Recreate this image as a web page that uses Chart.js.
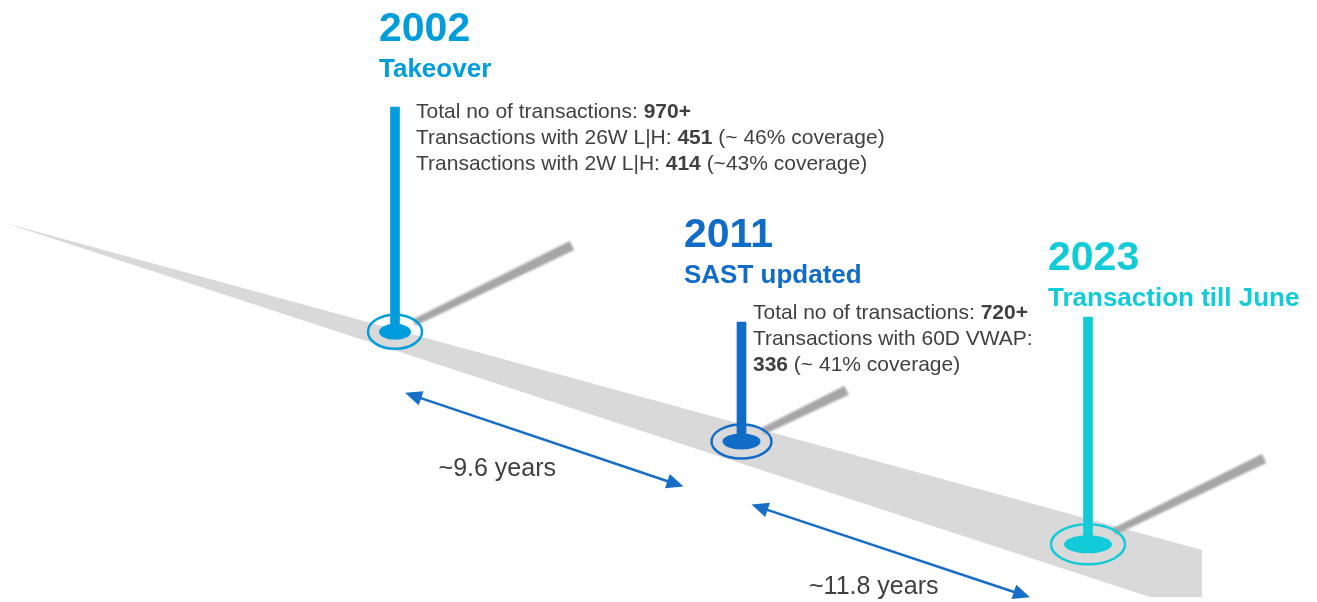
<!DOCTYPE html>
<html>
<head>
<meta charset="utf-8">
<script src="https://cdn.jsdelivr.net/npm/chart.js@4.4.1/dist/chart.umd.min.js"></script>
<style>
  html, body { margin: 0; padding: 0; background: #fff; }
</style>
</head>
<body>
<canvas id="timeline" width="1317" height="602"></canvas>
<script>
// timeline data
const years = ['2002', '2011', '2023'];
const titles = ['Takeover', 'SAST updated', 'Transaction till June'];
const notes = [
  ['Total no of transactions: **970+**',
   'Transactions with 26W L|H: **451** (~ 46% coverage)',
   'Transactions with 2W L|H: **414** (~43% coverage)'],
  ['Total no of transactions: **720+**',
   'Transactions with 60D VWAP:',
   '**336** (~ 41% coverage)'],
  []
];
const gapLabels = ['~9.6 years', '~11.8 years'];

// styles
const eventColors = ['#009ddc', '#106cc6', '#12cbd9'];
const arrowColor = '#176ec8';
const roadColor = '#d9d9d9';
const shadowColor = '#a6a6a6';
const textColor = '#404040';
const FONT = '"Liberation Sans", Arial, sans-serif';

// layout (x in category-index units, y in the y scale units)
const W = 1317, H = 602;
const road = { tip: -1.1255, end: 2.329, tipY: 223, endTop: 550, endBottom: 614, cutY: 597 };
const depth = [0.11, 0.44, 0.44];          // where the pin stands across the road
const pinTop = [107, 322, 317];
const ringSize = [[27, 17], [30, 17], [37, 20]];
const dotSize = [[16, 8], [19, 8], [24, 9]];
const shadowLen = [197, 117, 196];
const headPos = [[379, 41], [684, 247], [1048, 270]];
const notePos = [[416, 118], [753, 319]];
const arrowFrom = [[10, 61], [10, 63]];     // offset from base of left pin
const arrowTo = [[-58, 45], [-58, 53]];     // offset from base of right pin
const labelOff = [[-47, 36], [-17, 43]];    // offset from arrow midpoint

const lerp = (a, b, t) => a + (b - a) * t;
const roadTop = i => lerp(road.tipY, road.endTop, (i - road.tip) / (road.end - road.tip));
const roadBottom = i => lerp(road.tipY, road.endBottom, (i - road.tip) / (road.end - road.tip));
const baseY = i => roadTop(i) + depth[i] * (roadBottom(i) - roadTop(i));

const pinRanges = years.map((y, i) => [baseY(i), pinTop[i]]);

function drawRich(ctx, line, x, y, size) {
  const parts = line.split('**');
  let cx = x;
  parts.forEach((p, k) => {
    ctx.font = (k % 2 ? 'bold ' : '') + size + 'px ' + FONT;
    ctx.fillText(p, cx, y);
    cx += ctx.measureText(p).width;
  });
}

function arrowHead(ctx, x, y, ang) {
  const len = 17, half = 7.5;
  ctx.beginPath();
  ctx.moveTo(x, y);
  ctx.lineTo(x - len * Math.cos(ang) + half * Math.sin(ang), y - len * Math.sin(ang) - half * Math.cos(ang));
  ctx.lineTo(x - len * Math.cos(ang) - half * Math.sin(ang), y - len * Math.sin(ang) + half * Math.cos(ang));
  ctx.closePath();
  ctx.fill();
}

const decor = {
  id: 'decor',
  beforeDatasetsDraw(chart) {
    const { ctx, scales: { x, y } } = chart;
    const px = v => x.getPixelForValue(v);
    const py = v => y.getPixelForValue(v);
    ctx.save();

    // road
    ctx.save();
    ctx.beginPath();
    ctx.rect(0, 0, W, py(road.cutY));
    ctx.clip();
    ctx.fillStyle = roadColor;
    ctx.beginPath();
    ctx.moveTo(px(road.tip), py(road.tipY));
    ctx.lineTo(px(road.end), py(road.endTop));
    ctx.lineTo(px(road.end), py(road.endBottom));
    ctx.closePath();
    ctx.fill();
    ctx.restore();

    const dx = Math.cos(26 * Math.PI / 180), dy = -Math.sin(26 * Math.PI / 180);
    years.forEach((yr, i) => {
      const bx = px(i), by = py(baseY(i));
      // shadow of the pin
      const s0 = ringSize[i][0] * 0.78, s1 = shadowLen[i];
      const w0 = 3.5, w1 = 5;
      ctx.save();
      ctx.filter = 'blur(1px)';
      ctx.fillStyle = shadowColor;
      ctx.beginPath();
      ctx.moveTo(bx + dx * s0 - dy * w0, by + dy * s0 + dx * w0);
      ctx.lineTo(bx + dx * s1 - dy * w1, by + dy * s1 + dx * w1);
      ctx.lineTo(bx + dx * s1 + dy * w1, by + dy * s1 - dx * w1);
      ctx.lineTo(bx + dx * s0 + dy * w0, by + dy * s0 - dx * w0);
      ctx.closePath();
      ctx.fill();
      ctx.restore();

      // base dot and ring
      ctx.fillStyle = eventColors[i];
      ctx.beginPath();
      ctx.ellipse(bx, by, dotSize[i][0], dotSize[i][1], 0, 0, Math.PI * 2);
      ctx.fill();
      ctx.strokeStyle = eventColors[i];
      ctx.lineWidth = 2.5;
      ctx.beginPath();
      ctx.ellipse(bx, by, ringSize[i][0], ringSize[i][1], 0, 0, Math.PI * 2);
      ctx.stroke();
    });
    ctx.restore();
  },
  afterDatasetsDraw(chart) {
    const { ctx, scales: { x, y } } = chart;
    const px = v => x.getPixelForValue(v);
    const py = v => y.getPixelForValue(v);
    ctx.save();
    ctx.textBaseline = 'alphabetic';
    ctx.textAlign = 'left';

    years.forEach((yr, i) => {
      const [hx, hy] = headPos[i];
      ctx.fillStyle = eventColors[i];
      ctx.font = 'bold 41px ' + FONT;
      ctx.fillText(yr, hx, hy);
      ctx.font = 'bold 26px ' + FONT;
      ctx.fillText(titles[i], hx, hy + 36);

      ctx.fillStyle = textColor;
      notes[i].forEach((line, k) => {
        drawRich(ctx, line, notePos[i][0], notePos[i][1] + k * 26, 21);
      });
    });

    // gap arrows
    gapLabels.forEach((label, g) => {
      const x0 = px(g) + arrowFrom[g][0], y0 = py(baseY(g)) + arrowFrom[g][1];
      const x1 = px(g + 1) + arrowTo[g][0], y1 = py(baseY(g + 1)) + arrowTo[g][1];
      const ang = Math.atan2(y1 - y0, x1 - x0);
      ctx.strokeStyle = arrowColor;
      ctx.fillStyle = arrowColor;
      ctx.lineWidth = 2.5;
      ctx.beginPath();
      ctx.moveTo(x0 + 12 * Math.cos(ang), y0 + 12 * Math.sin(ang));
      ctx.lineTo(x1 - 12 * Math.cos(ang), y1 - 12 * Math.sin(ang));
      ctx.stroke();
      arrowHead(ctx, x1, y1, ang);
      arrowHead(ctx, x0, y0, ang + Math.PI);

      ctx.fillStyle = textColor;
      ctx.font = '25px ' + FONT;
      ctx.textAlign = 'center';
      ctx.fillText(label, (x0 + x1) / 2 + labelOff[g][0], (y0 + y1) / 2 + labelOff[g][1]);
      ctx.textAlign = 'left';
    });
    ctx.restore();
  }
};

new Chart(document.getElementById('timeline'), {
  type: 'bar',
  data: {
    labels: years,
    datasets: [{
      data: pinRanges,
      backgroundColor: eventColors,
      barThickness: 9,
      borderWidth: 0,
      borderSkipped: false,
      clip: false
    }]
  },
  options: {
    responsive: false,
    animation: false,
    devicePixelRatio: 1,
    layout: { padding: { left: 395, right: W - 1088, top: 0, bottom: 0 } },
    plugins: { legend: { display: false }, tooltip: { enabled: false } },
    scales: {
      x: { type: 'category', offset: false, display: false, grid: { display: false } },
      y: { type: 'linear', min: 0, max: H, reverse: true, display: false }
    }
  },
  plugins: [decor]
});
</script>
</body>
</html>
